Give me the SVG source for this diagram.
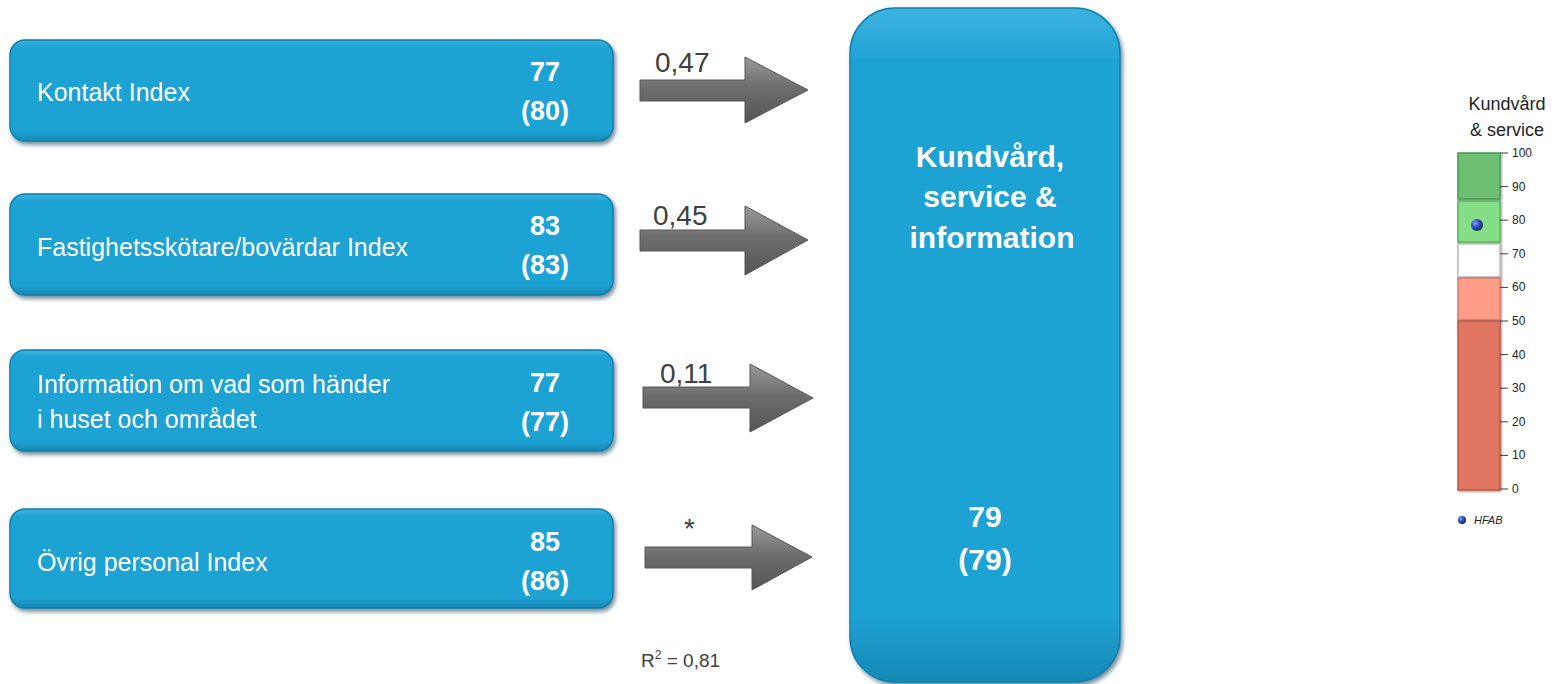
<svg xmlns="http://www.w3.org/2000/svg" width="1562" height="684" viewBox="0 0 1562 684">
<defs>
<style>
.box{fill:url(#blue);stroke:#0f7fae;stroke-width:1.5;filter:url(#sh)}
.lbl{font-family:"Liberation Sans",Arial,sans-serif;font-size:25px;fill:#ffffff}
.num{font-family:"Liberation Sans",Arial,sans-serif;font-size:27px;font-weight:bold;fill:#ffffff;text-anchor:middle}
.big{font-family:"Liberation Sans",Arial,sans-serif;font-size:30px;font-weight:bold;fill:#ffffff;text-anchor:middle}
.coef{font-family:"Liberation Sans",Arial,sans-serif;font-size:28px;fill:#404040}
.arr{fill:url(#gray);stroke:#555555;stroke-width:1}
.tick{stroke:#404040;stroke-width:1}
.tl{font-family:"Liberation Sans",Arial,sans-serif;font-size:12px;fill:#222222}
.seg{stroke-width:1.5}
</style>
<linearGradient id="blue" x1="0" y1="0" x2="0" y2="1">
<stop offset="0" stop-color="#3db3e0"/>
<stop offset="0.08" stop-color="#1ea2d3"/>
<stop offset="0.9" stop-color="#1ea2d3"/>
<stop offset="1" stop-color="#1689b5"/>
</linearGradient>
<linearGradient id="gray" x1="0" y1="0" x2="0" y2="1">
<stop offset="0" stop-color="#9a9a9a"/>
<stop offset="0.45" stop-color="#6e6e6e"/>
<stop offset="1" stop-color="#555555"/>
</linearGradient>
<filter id="sh" x="-10%" y="-10%" width="120%" height="130%">
<feDropShadow dx="2" dy="3" stdDeviation="2" flood-color="#0a3a52" flood-opacity="0.6"/>
</filter>
<filter id="sh2" x="-20%" y="-20%" width="140%" height="140%">
<feDropShadow dx="1" dy="1" stdDeviation="1" flood-color="#000" flood-opacity="0.4"/>
</filter>
<radialGradient id="dot" cx="0.35" cy="0.35" r="0.7">
<stop offset="0" stop-color="#7fa3ff"/>
<stop offset="0.5" stop-color="#2d4fb8"/>
<stop offset="1" stop-color="#13245e"/>
</radialGradient>
</defs>
<rect width="1562" height="684" fill="#ffffff"/>

<g id="node-kontakt">
<rect class="box" x="10" y="40" width="603" height="101" rx="15"/>
<text class="lbl" x="37" y="101">Kontakt Index</text>
<text class="num" x="545" y="81">77</text>
<text class="num" x="545" y="120">(80)</text>
</g>
<g id="node-fastighet">
<rect class="box" x="10" y="194" width="603" height="101" rx="15"/>
<text class="lbl" x="37" y="256">Fastighetsskötare/bovärdar Index</text>
<text class="num" x="545" y="235">83</text>
<text class="num" x="545" y="274">(83)</text>
</g>
<g id="node-information">
<rect class="box" x="10" y="350" width="603" height="101" rx="15"/>
<text class="lbl" x="37" y="393">Information om vad som händer</text>
<text class="lbl" x="37" y="428">i huset och området</text>
<text class="num" x="545" y="392">77</text>
<text class="num" x="545" y="431">(77)</text>
</g>
<g id="node-ovrig">
<rect class="box" x="10" y="509" width="603" height="99" rx="15"/>
<text class="lbl" x="37" y="571">Övrig personal Index</text>
<text class="num" x="545" y="551">85</text>
<text class="num" x="545" y="590">(86)</text>
</g>
<g id="node-kundvard">
<rect class="box" x="850" y="8" width="270" height="674" rx="45"/>
<text class="big" x="990" y="167">Kundvård,</text>
<text class="big" x="990" y="207">service &amp;</text>
<text class="big" x="992" y="248">information</text>
<text class="big" x="985" y="527">79</text>
<text class="big" x="985" y="570">(79)</text>
</g>

<g id="connectors">
<polygon class="arr" points="640,80 745,80 745,57 808,90 745,123 745,101 640,101"/>
<polygon class="arr" points="640,230 745,230 745,206 808,240 745,275 745,251 640,251"/>
<polygon class="arr" points="643,387 750,387 750,364 813,398 750,432 750,408 643,408"/>
<polygon class="arr" points="645,547 752,547 752,525 812,557 752,590 752,568 645,568"/>
<text class="coef" x="655" y="72">0,47</text>
<text class="coef" x="653" y="225">0,45</text>
<text class="coef" x="660" y="383">0,11</text>
<text class="coef" x="684" y="538">*</text>
</g>

<text x="641" y="667" font-family="'Liberation Sans',Arial,sans-serif" font-size="19" fill="#404040">R<tspan font-size="12" dy="-8">2</tspan><tspan dy="8"> = 0,81</tspan></text>

<g id="gauge">
<text x="1507" y="110" font-family="'Liberation Sans',Arial,sans-serif" font-size="18" fill="#222" text-anchor="middle">Kundvård</text>
<text x="1507" y="136" font-family="'Liberation Sans',Arial,sans-serif" font-size="18" fill="#222" text-anchor="middle">&amp; service</text>
<rect class="seg" x="1458" y="153" width="42" height="46" fill="#6cbf73" stroke="#4e9a55" filter="url(#sh2)"/>
<rect class="seg" x="1458" y="201" width="42" height="41" fill="#86df86" stroke="#5cb35f" filter="url(#sh2)"/>
<rect class="seg" x="1458" y="244" width="42" height="33" fill="#ffffff" stroke="#bdbdbd" filter="url(#sh2)"/>
<rect class="seg" x="1458" y="278" width="42" height="42" fill="#ff9e88" stroke="#d77b68" filter="url(#sh2)"/>
<rect class="seg" x="1458" y="321" width="42" height="169" fill="#e07662" stroke="#b85a48" filter="url(#sh2)"/>
<circle cx="1477" cy="225" r="6" fill="url(#dot)"/>
<g class="tick">
<line x1="1500" y1="153" x2="1508" y2="153"/>
<line x1="1500" y1="186.6" x2="1508" y2="186.6"/>
<line x1="1500" y1="220.2" x2="1508" y2="220.2"/>
<line x1="1500" y1="253.8" x2="1508" y2="253.8"/>
<line x1="1500" y1="287.4" x2="1508" y2="287.4"/>
<line x1="1500" y1="321" x2="1508" y2="321"/>
<line x1="1500" y1="354.6" x2="1508" y2="354.6"/>
<line x1="1500" y1="388.2" x2="1508" y2="388.2"/>
<line x1="1500" y1="421.8" x2="1508" y2="421.8"/>
<line x1="1500" y1="455.4" x2="1508" y2="455.4"/>
<line x1="1500" y1="489" x2="1508" y2="489"/>
</g>
<text class="tl" x="1512" y="157">100</text>
<text class="tl" x="1512" y="190.6">90</text>
<text class="tl" x="1512" y="224.2">80</text>
<text class="tl" x="1512" y="257.8">70</text>
<text class="tl" x="1512" y="291.4">60</text>
<text class="tl" x="1512" y="325">50</text>
<text class="tl" x="1512" y="358.6">40</text>
<text class="tl" x="1512" y="392.2">30</text>
<text class="tl" x="1512" y="425.8">20</text>
<text class="tl" x="1512" y="459.4">10</text>
<text class="tl" x="1512" y="493">0</text>
<circle cx="1462" cy="520" r="4" fill="url(#dot)"/>
<text x="1474" y="524" font-family="'Liberation Sans',Arial,sans-serif" font-size="11" font-style="italic" fill="#222">HFAB</text>
</g>
</svg>
